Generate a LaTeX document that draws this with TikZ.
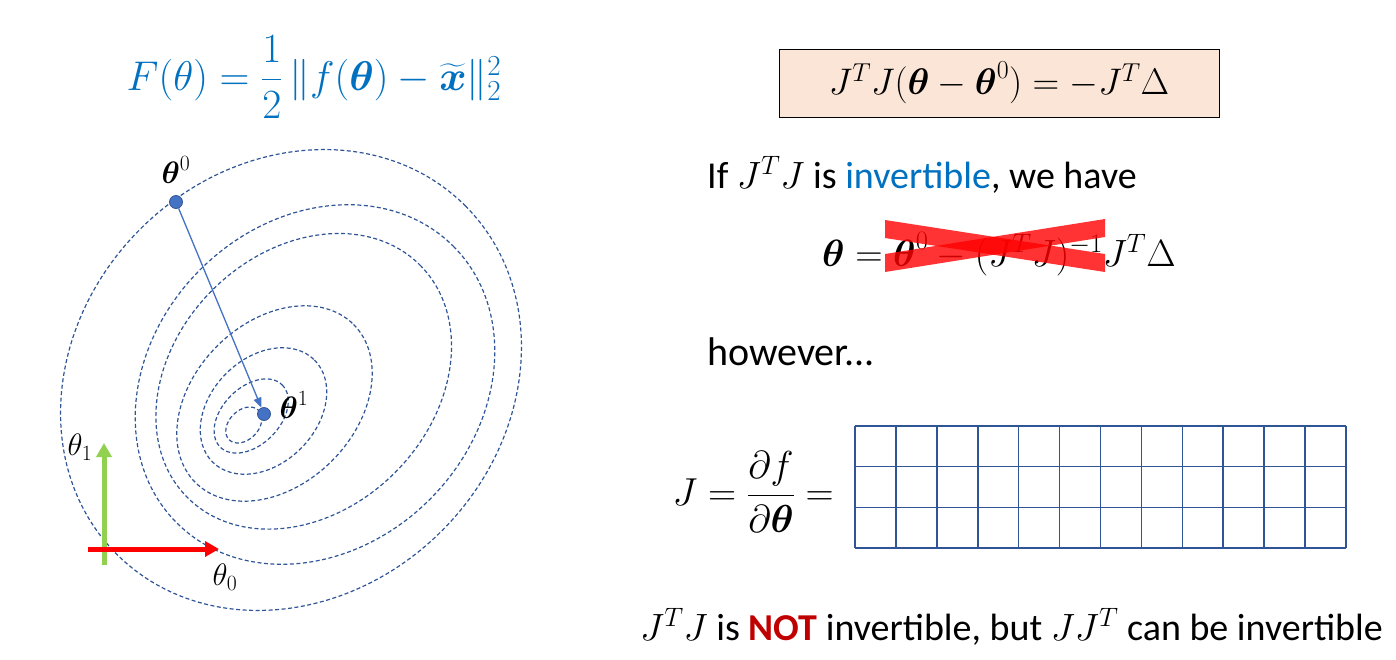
\RequirePackage{fix-cm}
\documentclass[tikz,border=0pt]{standalone}
\usepackage{amsmath}
\usepackage[no-math]{fontspec}
\setmainfont{Carlito}
\usetikzlibrary{arrows.meta}
\definecolor{titleblue}{HTML}{0070C0}
\definecolor{contour}{HTML}{2F5597}
\definecolor{dotblue}{HTML}{4472C4}
\definecolor{peach}{HTML}{FBE5D6}
\definecolor{notred}{HTML}{C00000}
\definecolor{axgreen}{HTML}{92D050}
\definecolor{xred}{HTML}{FF0000}
\tikzset{
  contourline/.style={draw=contour, line width=1.2pt, dash pattern=on 4pt off 2.5pt},
  dotnode/.style={circle, fill=dotblue, draw=dotblue!75!black, line width=0.8pt, inner sep=0pt, minimum size=13pt},
  lbl/.style={font=\fontsize{31}{35}\selectfont, inner sep=0pt},
  body/.style={font=\fontsize{38}{44}\selectfont, inner sep=0pt, anchor=base west},
  axisarrow/.style={line width=5pt, -{Triangle[length=14pt,width=15pt]}},
  gridline/.style={draw=contour, line width=1.6pt},
  crossbar/.style={fill=xred, fill opacity=0.8}
}
\begin{document}
\begin{tikzpicture}[x=1pt,y=-1pt]
\useasboundingbox (0,0) rectangle (1396,659);
% title
\node[titleblue, font=\fontsize{41.5}{47}\selectfont, inner sep=0pt] (title) at (314,77)
  {$F(\theta)=\dfrac{1}{2}\,\|f(\boldsymbol{\theta})-\widetilde{\boldsymbol{x}}\|_2^2$};
% contours
\draw[contourline, rotate around={45:(291,380)}] (291,380) ellipse [x radius=246.4, y radius=213.3];
\draw[contourline, rotate around={45:(315,384.5)}] (315,384.5) ellipse [x radius=195.6, y radius=162.4];
\draw[contourline, rotate around={45:(303.7,381.3)}] (303.7,381.3) ellipse [x radius=164.4, y radius=129.1];
\draw[contourline, rotate around={45:(274.5,403.5)}] (274.5,403.5) ellipse [x radius=111.8, y radius=81.2];
\draw[contourline, rotate around={45:(263.5,411)}] (263.5,411) ellipse [x radius=72.1, y radius=52.9];
\draw[contourline, rotate around={45:(251.2,416)}] (251.2,416) ellipse [x radius=43.9, y radius=28.7];
\draw[contourline, rotate around={45:(243.8,425)}] (243.8,425) ellipse [x radius=20.8, y radius=14.7];
% points
\node[dotnode] (t0) at (176,202) {};
\node[dotnode] (t1) at (264,414) {};
\draw[dotblue, line width=1.3pt, -{Triangle[length=10pt,width=8pt]}] (t0) -- (t1);
\node[lbl] (l0) at (176,170) {$\boldsymbol{\theta}^0$};
\node[lbl] (l1) at (294,405) {$\boldsymbol{\theta}^1$};
% axes
\coordinate (g0) at (104,565);
\coordinate (g1) at (104,443);
\coordinate (r0) at (88,549);
\coordinate (r1) at (219,549);
\draw[axisarrow, axgreen] (g0) -- (g1);
\draw[axisarrow, xred] (r0) -- (r1);
\node[lbl] (th1) at (80,447) {$\theta_1$};
\node[lbl] (th0) at (225,577) {$\theta_0$};
% right side
\node[draw=black, fill=peach, line width=1pt, minimum width=440pt, minimum height=68pt, inner sep=0pt,
      font=\fontsize{37}{42}\selectfont] (box) at (999,83)
  {$J^TJ(\boldsymbol{\theta}-\boldsymbol{\theta}^0)=-J^T\Delta$};
\node[body] (iftext) at (707,188) {If $J^TJ$ is \textcolor{titleblue}{invertible}, we have};
\node[body] (sol) at (822,266)
  {$\boldsymbol{\theta}=\boldsymbol{\theta}^0-(J^TJ)^{-1}J^T\Delta$};
\fill[crossbar] (885,220) -- (1105,254) -- (1105,272) -- (885,238) -- cycle;
\fill[crossbar] (885,254) -- (1105,219) -- (1105,237) -- (885,272) -- cycle;
\node[body, font=\fontsize{40}{46}\selectfont] (however) at (707,365) {however...};
\node[font=\fontsize{39}{44}\selectfont, inner sep=0pt, anchor=east] (jac) at (834,492)
  {$J=\dfrac{\partial f}{\partial\boldsymbol{\theta}}=$};
\foreach \i in {0,...,12} {
  \draw[gridline] ({855+\i*40.917},426) -- ({855+\i*40.917},548);
}
\foreach \j in {0,...,3} {
  \draw[gridline] (855,{426+\j*40.667}) -- (1346,{426+\j*40.667});
}
\node[body] (concl) at (640,640)
  {$J^TJ$ is \textbf{\textcolor{notred}{NOT}} invertible, but $JJ^T$ can be invertible};
\end{tikzpicture}
\end{document}
